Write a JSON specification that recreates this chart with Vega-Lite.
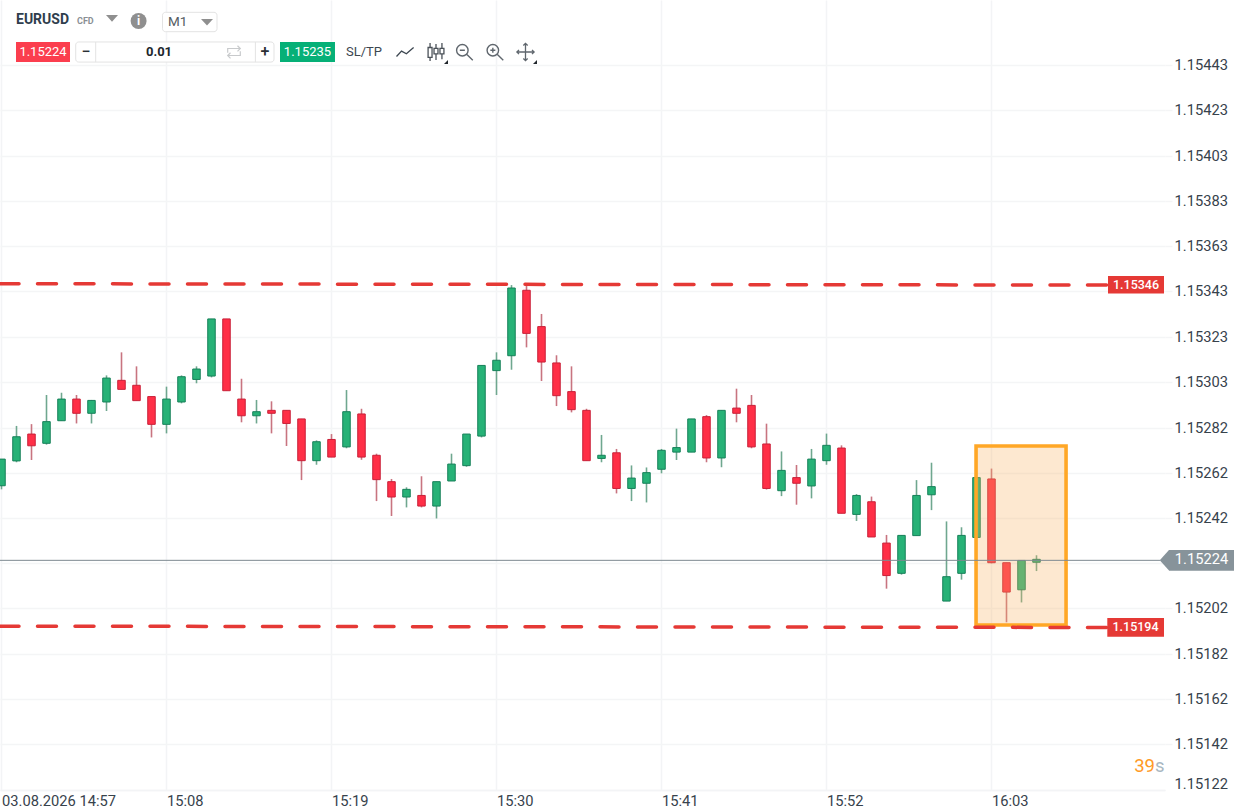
{"$schema":"https://vega.github.io/schema/vega-lite/v6.json","width":1165,"height":790,"autosize":{"type":"none"},"padding":{"left":0,"top":0,"right":85,"bottom":20},"background":"#ffffff",
"config":{"view":{"stroke":null},"font":"Roboto","text":{"font":"Roboto"}},
"resolve":{"scale":{"color":"independent"}},
"datasets":{
"candles":[
{"m":0,"dir":"up","open":1.152566,"high":1.152684,"low":1.15255,"close":1.152684},
{"m":1,"dir":"up","open":1.152676,"high":1.152831,"low":1.15267,"close":1.152783},
{"m":2,"dir":"down","open":1.152795,"high":1.152839,"low":1.15268,"close":1.152743},
{"m":3,"dir":"up","open":1.152754,"high":1.152968,"low":1.152748,"close":1.15285},
{"m":4,"dir":"up","open":1.152854,"high":1.152978,"low":1.152854,"close":1.15295},
{"m":5,"dir":"down","open":1.15295,"high":1.152968,"low":1.152842,"close":1.152887},
{"m":6,"dir":"up","open":1.152887,"high":1.152946,"low":1.152842,"close":1.152944},
{"m":7,"dir":"up","open":1.152937,"high":1.153055,"low":1.152897,"close":1.153043},
{"m":8,"dir":"down","open":1.153033,"high":1.153157,"low":1.152993,"close":1.152993},
{"m":9,"dir":"down","open":1.153011,"high":1.153095,"low":1.152943,"close":1.152943},
{"m":10,"dir":"down","open":1.152961,"high":1.152961,"low":1.15278,"close":1.152838},
{"m":11,"dir":"up","open":1.152838,"high":1.153005,"low":1.152798,"close":1.15295},
{"m":12,"dir":"up","open":1.152937,"high":1.153055,"low":1.152931,"close":1.153049},
{"m":13,"dir":"up","open":1.153037,"high":1.153095,"low":1.15302,"close":1.153083},
{"m":14,"dir":"up","open":1.153052,"high":1.153305,"low":1.153046,"close":1.153305},
{"m":15,"dir":"down","open":1.153305,"high":1.153305,"low":1.152987,"close":1.152987},
{"m":16,"dir":"down","open":1.15295,"high":1.15304,"low":1.152847,"close":1.152876},
{"m":17,"dir":"up","open":1.152876,"high":1.152946,"low":1.152842,"close":1.152894},
{"m":18,"dir":"down","open":1.1529,"high":1.15294,"low":1.152798,"close":1.152887},
{"m":19,"dir":"down","open":1.1529,"high":1.1529,"low":1.152742,"close":1.152842},
{"m":20,"dir":"down","open":1.152862,"high":1.152862,"low":1.152591,"close":1.152677},
{"m":21,"dir":"up","open":1.152677,"high":1.152767,"low":1.152659,"close":1.152761},
{"m":22,"dir":"down","open":1.152771,"high":1.152795,"low":1.152693,"close":1.152693},
{"m":23,"dir":"up","open":1.152738,"high":1.15299,"low":1.152732,"close":1.152894},
{"m":24,"dir":"down","open":1.152884,"high":1.152907,"low":1.152681,"close":1.152693},
{"m":25,"dir":"down","open":1.152701,"high":1.152708,"low":1.152498,"close":1.152593},
{"m":26,"dir":"down","open":1.152584,"high":1.152596,"low":1.152432,"close":1.152516},
{"m":27,"dir":"up","open":1.152516,"high":1.152559,"low":1.15247,"close":1.15255},
{"m":28,"dir":"down","open":1.152523,"high":1.152608,"low":1.15247,"close":1.152476},
{"m":29,"dir":"up","open":1.152476,"high":1.152584,"low":1.152421,"close":1.152584},
{"m":30,"dir":"up","open":1.152587,"high":1.152708,"low":1.152587,"close":1.152662},
{"m":31,"dir":"up","open":1.152655,"high":1.152795,"low":1.15265,"close":1.152795},
{"m":32,"dir":"up","open":1.152786,"high":1.153099,"low":1.15278,"close":1.153099},
{"m":33,"dir":"up","open":1.153076,"high":1.153157,"low":1.152968,"close":1.153122},
{"m":34,"dir":"up","open":1.153142,"high":1.153455,"low":1.15308,"close":1.153442},
{"m":35,"dir":"down","open":1.153432,"high":1.153455,"low":1.153179,"close":1.153241},
{"m":36,"dir":"down","open":1.153271,"high":1.153327,"low":1.15303,"close":1.153114},
{"m":37,"dir":"down","open":1.15311,"high":1.153144,"low":1.152919,"close":1.152965},
{"m":38,"dir":"down","open":1.152983,"high":1.153095,"low":1.152891,"close":1.152903},
{"m":39,"dir":"down","open":1.1529,"high":1.152907,"low":1.152677,"close":1.152677},
{"m":40,"dir":"up","open":1.152687,"high":1.152791,"low":1.15267,"close":1.152701},
{"m":41,"dir":"down","open":1.152712,"high":1.152729,"low":1.152532,"close":1.152554},
{"m":42,"dir":"up","open":1.152554,"high":1.152656,"low":1.152498,"close":1.1526},
{"m":43,"dir":"up","open":1.152577,"high":1.152647,"low":1.152492,"close":1.152624},
{"m":44,"dir":"up","open":1.152639,"high":1.152729,"low":1.152621,"close":1.152723},
{"m":45,"dir":"up","open":1.152715,"high":1.152819,"low":1.15268,"close":1.152735},
{"m":46,"dir":"up","open":1.152715,"high":1.152862,"low":1.152715,"close":1.152862},
{"m":47,"dir":"down","open":1.152872,"high":1.152879,"low":1.15267,"close":1.152689},
{"m":48,"dir":"up","open":1.152689,"high":1.1529,"low":1.152648,"close":1.1529},
{"m":49,"dir":"down","open":1.15291,"high":1.152996,"low":1.152847,"close":1.152887},
{"m":50,"dir":"down","open":1.152922,"high":1.152968,"low":1.152732,"close":1.152738},
{"m":51,"dir":"down","open":1.152751,"high":1.152841,"low":1.152549,"close":1.152554},
{"m":52,"dir":"up","open":1.152544,"high":1.152718,"low":1.15252,"close":1.152634},
{"m":53,"dir":"down","open":1.152602,"high":1.152658,"low":1.152482,"close":1.152577},
{"m":54,"dir":"up","open":1.152565,"high":1.152729,"low":1.15251,"close":1.152684},
{"m":55,"dir":"up","open":1.152677,"high":1.152797,"low":1.152659,"close":1.152745},
{"m":56,"dir":"down","open":1.152733,"high":1.152745,"low":1.152444,"close":1.152444},
{"m":57,"dir":"up","open":1.152439,"high":1.152529,"low":1.15241,"close":1.152523},
{"m":58,"dir":"down","open":1.152495,"high":1.152518,"low":1.152339,"close":1.152339},
{"m":59,"dir":"down","open":1.152312,"high":1.152348,"low":1.15211,"close":1.152168},
{"m":60,"dir":"up","open":1.152178,"high":1.152346,"low":1.152172,"close":1.152346},
{"m":61,"dir":"up","open":1.152345,"high":1.152591,"low":1.152345,"close":1.152523},
{"m":62,"dir":"up","open":1.152526,"high":1.152668,"low":1.152458,"close":1.152562},
{"m":63,"dir":"up","open":1.152055,"high":1.152408,"low":1.152055,"close":1.152163},
{"m":64,"dir":"up","open":1.152178,"high":1.152382,"low":1.15215,"close":1.152346},
{"m":65,"dir":"up","open":1.152337,"high":1.152602,"low":1.152337,"close":1.152602},
{"m":66,"dir":"down","open":1.152596,"high":1.152642,"low":1.152222,"close":1.152225},
{"m":67,"dir":"down","open":1.152225,"high":1.152225,"low":1.151961,"close":1.152095},
{"m":68,"dir":"up","open":1.152105,"high":1.152235,"low":1.152049,"close":1.152235},
{"m":69,"dir":"up","open":1.152227,"high":1.152258,"low":1.152188,"close":1.15224}
],
"levels":[
{"level":"resistance","m":-0.1,"price":1.153461},{"level":"resistance","m":73.7,"price":1.153455},
{"level":"support","m":-0.1,"price":1.151944},{"level":"support","m":73.7,"price":1.151938}
],
"buttons":[
{"role":"bid","m":0.967,"m2":4.567,"price":1.154532,"price2":1.154443},
{"role":"ask","m":18.567,"m2":22.233,"price":1.154532,"price2":1.154443},
{"role":"level","m":73.767,"m2":77.5,"price":1.153495,"price2":1.153418},
{"role":"level","m":73.72,"m2":77.5,"price":1.15198,"price2":1.151897},
{"role":"current","m":77.833,"m2":82.167,"price":1.152281,"price2":1.152189}
]
},
"encoding":{
"x":{"field":"m","type":"quantitative","title":null,"scale":{"domain":[-0.1,77.5667],"nice":false,"zero":false,"padding":0},
"axis":{"values":[0,11,22,33,44,55,66],"labelExpr":"datum.value==0?'03.08.2026 14:57':utcFormat(1785769020000+datum.value*60000,'%H:%M')","labelAlign":"left","labelBaseline":"alphabetic","labelPadding":15,"labelFontSize":14.7,"labelFont":"Roboto","labelColor":"#37424c","labelFlush":false,"labelOverlap":false,"tickSize":0,"grid":true,"gridColor":"#f3f4f6","gridWidth":1.5,"domainColor":"#f3f4f6","domainWidth":1.5,"title":null}},
"y":{"field":"price","type":"quantitative","title":null,"scale":{"domain":[1.151218,1.154718],"nice":false,"zero":false},
"axis":{"orient":"right","values":[1.15122,1.151421,1.151621,1.151822,1.152023,1.152223,1.152424,1.152624,1.152824,1.153026,1.153226,1.153427,1.153628,1.153828,1.154029,1.15423,1.154431],"labelExpr":"abs(datum.value-1.152223)<0.000001?'':format(datum.value,'.5f')","labelFontSize":14.7,"labelFont":"Roboto","labelColor":"#37424c","labelPadding":2,"labelBaseline":"middle","labelOffset":{"condition":{"test":"datum.value<1.1513","value":-5},"value":0.5},"tickSize":7,"tickWidth":1.5,"tickColor":{"condition":{"test":"datum.value<1.1513","value":"transparent"},"value":"#f4f5f6"},"grid":true,"gridColor":"#f4f5f6","gridWidth":1.5,"domain":false,"labelOverlap":false,"labelFlush":false,"title":null}}
},
"layer":[
{"data":{"name":"candles"},"mark":{"type":"rule","strokeWidth":1.6},"encoding":{
"y":{"field":"high","type":"quantitative","title":null,"scale":{"domain":[1.151218,1.154718],"nice":false,"zero":false}},"y2":{"field":"low"},
"color":{"field":"dir","type":"nominal","scale":{"domain":["up","down"],"range":["#6fa78f","#c87480"]},"legend":null}}},
{"data":{"name":"candles"},"mark":{"type":"bar","size":7.5,"strokeWidth":1},"encoding":{
"y":{"field":"open","type":"quantitative","title":null,"scale":{"domain":[1.151218,1.154718],"nice":false,"zero":false}},"y2":{"field":"close"},
"fill":{"field":"dir","type":"nominal","scale":{"domain":["up","down"],"range":["#27b277","#ff2f47"]},"legend":null},
"stroke":{"field":"dir","type":"nominal","scale":{"domain":["up","down"],"range":["#168059","#c92038"]},"legend":null}}},
{"data":{"values":[{"m":64.97,"m2":70.97,"price":1.152742,"price2":1.151949}]},"mark":{"type":"rect","fill":"#fab264","fillOpacity":0.3,"stroke":"#ffa726","strokeWidth":3.6},"encoding":{"x2":{"field":"m2"},"y2":{"field":"price2"}}},
{"data":{"name":"levels"},"mark":{"type":"line","color":"#e53935","strokeWidth":3.5,"strokeDash":[19,18.5],"strokeDashoffset":7,"strokeCap":"round"},"encoding":{"detail":{"field":"level"},"order":{"field":"m"}}},
{"data":{"values":[{"m":-0.1,"m2":77.233,"price":1.1522355}]},"mark":{"type":"rule","color":"#7d8a91","strokeWidth":1},"encoding":{"x2":{"field":"m2"}}},
{"data":{"name":"buttons"},"mark":{"type":"rect"},"encoding":{"x2":{"field":"m2"},"y2":{"field":"price2"},"color":{"field":"role","type":"nominal","scale":{"domain":["bid","ask","level","current"],"range":["#fb3e4e","#06b077","#e53935","#87939a"]},"legend":null}}},
{"data":{"values":[{"m":77.833,"price":1.1522355}]},"mark":{"type":"point","filled":true,"opacity":1,"size":1680,"color":"#87939a","shape":"M0,-0.5 L0,0.5 L-0.45,0 Z"}},
{"data":{"values":[{"label":"1.15346","m":75.633,"price":1.153455},{"label":"1.15194","m":75.6,"price":1.151938}]},"mark":{"type":"text","color":"#ffffff","fontSize":12.5,"fontWeight":500,"align":"center","baseline":"middle","font":"Roboto"},"encoding":{"text":{"field":"label"}}},
{"data":{"values":[{"label":"1.15224","m":80.0,"price":1.1522355}]},"mark":{"type":"text","color":"#ffffff","fontSize":14.7,"align":"center","baseline":"middle","font":"Roboto"},"encoding":{"text":{"field":"label"}}},
{"data":{"values":[{"label":"39","m":76.9,"price":1.1513263}]},"mark":{"type":"text","color":"#ff9a26","fontSize":18.5,"align":"right","baseline":"middle","font":"Roboto"},"encoding":{"text":{"field":"label"}}},
{"data":{"values":[{"label":"s","m":76.9,"price":1.1513263}]},"mark":{"type":"text","color":"#a9b7c2","fontSize":18.5,"align":"left","baseline":"middle","font":"Roboto"},"encoding":{"text":{"field":"label"}}},
{"data":{"values":[{"m":10.733,"m2":14.367,"price":1.1546635,"price2":1.1545776},{"m":4.947,"m2":18.167,"price":1.154532,"price2":1.154443}]},"mark":{"type":"rect","fill":"#ffffff","stroke":"#e3e3e3","strokeWidth":1,"cornerRadius":3},"encoding":{"x2":{"field":"m2"},"y2":{"field":"price2"}}},
{"data":{"values":[{"m":6.28,"price":1.154532,"price2":1.154443},{"m":16.927,"price":1.154532,"price2":1.154443}]},"mark":{"type":"rule","color":"#e3e3e3","strokeWidth":1},"encoding":{"y2":{"field":"price2"}}},
{"data":{"values":[{"label":"EURUSD","m":0.967,"price":1.1546294}]},"mark":{"type":"text","color":"#2f3e4d","fontSize":14,"fontWeight":700,"align":"left","baseline":"middle","font":"Roboto"},"encoding":{"text":{"field":"label"}}},
{"data":{"values":[{"label":"CFD","m":5.033,"price":1.154625}]},"mark":{"type":"text","color":"#8a8f94","fontSize":9,"fontWeight":700,"align":"left","baseline":"middle","font":"Roboto"},"encoding":{"text":{"field":"label"}}},
{"data":{"values":[{"label":"M1","m":11.1,"price":1.1546205}]},"mark":{"type":"text","color":"#555c63","fontSize":13.5,"align":"left","baseline":"middle","font":"Roboto"},"encoding":{"text":{"field":"label"}}},
{"data":{"values":[{"m":9.14,"price":1.154625}]},"mark":{"type":"point","filled":true,"opacity":1,"shape":"circle","size":256,"color":"#8f8f8f"}},
{"data":{"values":[{"label":"i","m":9.14,"price":1.154625}]},"mark":{"type":"text","color":"#ffffff","fontSize":12,"fontWeight":700,"align":"center","baseline":"middle","font":"Roboto"},"encoding":{"text":{"field":"label"}}},
{"data":{"values":[{"m":7.367,"price":1.154638},{"m":13.7,"price":1.1546205}]},"mark":{"type":"point","filled":true,"opacity":1,"size":576,"color":"#8f8f8f","shape":"M-0.5,-0.25 L0.5,-0.25 L0,0.3 Z"}},
{"data":{"values":[{"label":"1.15224","m":2.767,"price":1.1544876},{"label":"1.15235","m":20.4,"price":1.1544876}]},"mark":{"type":"text","color":"#ffffff","fontSize":13,"align":"center","baseline":"middle","font":"Roboto"},"encoding":{"text":{"field":"label"}}},
{"data":{"values":[{"label":"−","m":5.633,"price":1.1544876},{"label":"+","m":17.567,"price":1.1544876}]},"mark":{"type":"text","color":"#2a2f35","fontSize":16,"fontWeight":500,"align":"center","baseline":"middle","font":"Roboto"},"encoding":{"text":{"field":"label"}}},
{"data":{"values":[{"label":"0.01","m":10.5,"price":1.1544876}]},"mark":{"type":"text","color":"#20262c","fontSize":13,"fontWeight":700,"align":"center","baseline":"middle","font":"Roboto"},"encoding":{"text":{"field":"label"}}},
{"data":{"values":[{"label":"SL/TP","m":24.167,"price":1.1544876}]},"mark":{"type":"text","color":"#3c4650","fontSize":13,"align":"center","baseline":"middle","font":"Roboto"},"encoding":{"text":{"field":"label"}}},
{"data":{"values":[{"m":15.5,"price":1.1544876}]},"mark":{"type":"point","filled":false,"opacity":1,"size":784,"color":"#c8cacc","strokeWidth":1.2,"shape":"M-0.45,0.05 V-0.25 H0.45 M0.25,-0.45 L0.45,-0.25 L0.25,-0.05 M0.45,-0.05 V0.25 H-0.45 M-0.25,0.45 L-0.45,0.25 L-0.25,0.05"}},
{"data":{"values":[{"m":26.933,"price":1.1544876}]},"mark":{"type":"point","filled":false,"opacity":1,"size":1296,"color":"#3c4650","strokeWidth":1.3,"shape":"M-0.5,0.25 L-0.22,-0.05 L0.05,0.1 L0.45,-0.25"}},
{"data":{"values":[{"m":28.967,"price":1.1544876}]},"mark":{"type":"point","filled":false,"opacity":1,"size":1296,"color":"#4a5158","strokeWidth":1.3,"shape":"M-0.33,-0.5 V-0.25 M-0.33,0.3 V0.5 M0,-0.45 V-0.2 M0,0.1 V0.45 M0.33,-0.5 V-0.2 M0.33,0.1 V0.4 M-0.44,-0.25 H-0.22 V0.3 H-0.44 Z M-0.11,-0.2 H0.11 V0.1 H-0.11 Z M0.22,-0.2 H0.44 V0.1 H0.22 Z"}},
{"data":{"values":[{"m":30.867,"price":1.1544876}]},"mark":{"type":"point","filled":false,"opacity":1,"size":1296,"color":"#5f666d","strokeWidth":1.4,"shape":"M0.2,-0.1 A0.32,0.32 0 1 1 -0.44,-0.1 A0.32,0.32 0 1 1 0.2,-0.1 M0.12,0.13 L0.46,0.46 M-0.26,-0.1 H0.02"}},
{"data":{"values":[{"m":32.9,"price":1.1544876}]},"mark":{"type":"point","filled":false,"opacity":1,"size":1296,"color":"#5f666d","strokeWidth":1.4,"shape":"M0.2,-0.1 A0.32,0.32 0 1 1 -0.44,-0.1 A0.32,0.32 0 1 1 0.2,-0.1 M0.12,0.13 L0.46,0.46 M-0.26,-0.1 H0.02 M-0.12,-0.24 V0.04"}},
{"data":{"values":[{"m":34.933,"price":1.1544876}]},"mark":{"type":"point","filled":false,"opacity":1,"size":1296,"color":"#5f666d","strokeWidth":1.3,"shape":"M-0.48,0 H0.48 M0,-0.48 V0.48 M-0.36,-0.12 L-0.48,0 L-0.36,0.12 M0.36,-0.12 L0.48,0 L0.36,0.12 M-0.12,-0.36 L0,-0.48 L0.12,-0.36 M-0.12,0.36 L0,0.48 L0.12,0.36"}},
{"data":{"values":[{"m":29.633,"price":1.1544433},{"m":35.567,"price":1.1544433}]},"mark":{"type":"point","filled":true,"opacity":1,"size":64,"color":"#20262c","shape":"M0.5,-0.5 L0.5,0.5 L-0.5,0.5 Z"}}
]}
